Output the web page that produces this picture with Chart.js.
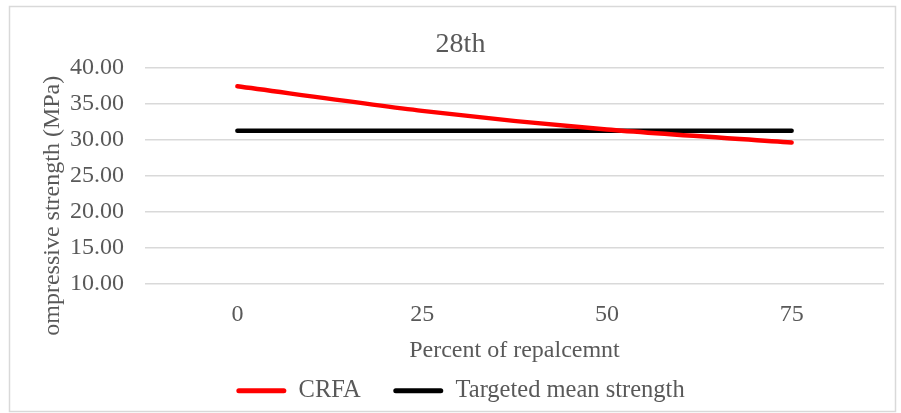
<!DOCTYPE html>
<html>
<head>
<meta charset="utf-8">
<script src="https://cdn.jsdelivr.net/npm/chart.js@4/dist/chart.umd.min.js"></script>
<style>
  html, body { margin: 0; padding: 0; background: #fff; }
  #wrap { width: 901px; height: 413px; }
</style>
</head>
<body>
<div id="wrap"><canvas id="lineChart"></canvas></div>
<script>
const categories = ['0', '25', '50', '75'];
const crfa = [37.4, 34.0, 31.4, 29.6];
const targetMean = [31.25, 31.25, 31.25, 31.25];
const yTicks = [10, 15, 20, 25, 30, 35, 40];

const grey = '#595959';
const serif = "'Liberation Serif', 'Times New Roman', serif";

// kader + witte achtergrond zoals in Excel
const frame = {
    id: 'frame',
    beforeDraw(chart) {
        const c = chart.ctx;
        c.save();
        c.fillStyle = '#fff';
        c.fillRect(0, 0, chart.width, chart.height);
        c.strokeStyle = '#d9d9d9';
        c.lineWidth = 1.5;
        c.strokeRect(9.5, 6.5, 886, 405);
        c.restore();
    }
};

const ctx = document.getElementById('lineChart').getContext('2d');
new Chart(ctx, {
    type: 'line',
    data: {
        labels: categories,
        datasets: [
            {
                label: 'CRFA',
                data: crfa,
                borderColor: '#ff0000',
                backgroundColor: '#ff0000',
                borderWidth: 4.5,
                borderCapStyle: 'round',
                tension: 0.25,
                pointRadius: 0,
                fill: false
            },
            {
                label: 'Targeted mean strength',
                data: targetMean,
                borderColor: '#000000',
                backgroundColor: '#000000',
                borderWidth: 4.5,
                borderCapStyle: 'round',
                pointRadius: 0,
                fill: false
            }
        ]
    },
    options: {
        responsive: true,
        maintainAspectRatio: false,
        animation: false,
        layout: { padding: { left: 37, right: 17, top: 22, bottom: 0 } },
        scales: {
            x: {
                offset: true,
                grid: { display: false, drawTicks: false },
                border: { display: false },
                ticks: { color: grey, font: { family: serif, size: 24 }, padding: 16 },
                title: {
                    display: true,
                    text: 'Percent of repalcemnt',
                    color: grey,
                    font: { family: serif, size: 24 },
                    padding: { top: -8, bottom: 5 }
                }
            },
            y: {
                min: 10,
                max: 40,
                afterBuildTicks: axis => { axis.ticks = yTicks.map(v => ({ value: v })); },
                afterFit: axis => { axis.width = 108; },
                grid: { color: '#d9d9d9', lineWidth: 1.5, drawTicks: false },
                border: { display: false },
                ticks: {
                    autoSkip: false,
                    color: grey,
                    font: { family: serif, size: 24 },
                    padding: 21,
                    callback: v => Number(v).toFixed(2)
                },
                title: {
                    display: true,
                    text: 'ompressive strength (MPa)          ',
                    color: grey,
                    font: { family: serif, size: 24 },
                    padding: { top: 1, bottom: 0 }
                }
            }
        },
        plugins: {
            title: {
                display: true,
                text: '28th',
                color: grey,
                font: { family: serif, size: 28, weight: 'normal' },
                padding: { top: 6, bottom: 6 }
            },
            legend: {
                display: true,
                position: 'bottom',
                labels: {
                    color: grey,
                    font: { family: serif, size: 24.5 },
                    boxWidth: 50,
                    boxHeight: 5,
                    padding: 8,
                    useBorderRadius: true,
                    borderRadius: 2.5,
                    // extra ruimte na de eerste legenda-tekst
                    generateLabels: chart =>
                        Chart.defaults.plugins.legend.labels.generateLabels(chart)
                            .map((l, i) => ({
                                ...l,
                                text: i === 0 ? l.text + '    ' : l.text,
                                lineWidth: 0,
                                strokeStyle: 'rgba(0,0,0,0)'
                            }))
                }
            },
            tooltip: { enabled: false }
        }
    },
    plugins: [frame]
});
</script>
</body>
</html>
